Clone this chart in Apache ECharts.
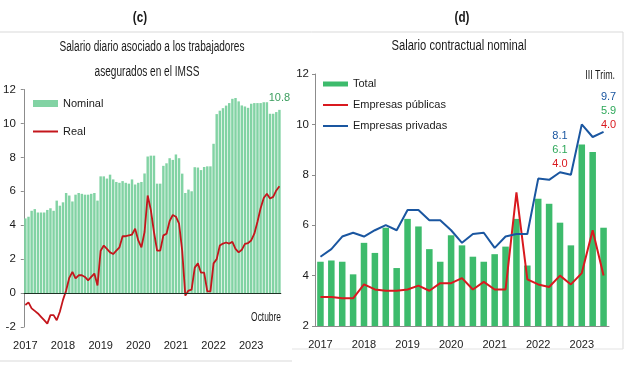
<!DOCTYPE html>
<html><head><meta charset="utf-8">
<script src="https://cdn.jsdelivr.net/npm/echarts@6/dist/echarts.min.js"></script>
<style>html,body{margin:0;padding:0;background:#fff}#c{width:625px;height:365px}</style>
</head><body><div id="c"></div>
<script>
// ---------- Panel (c): monthly, Jan 2017 - Oct 2023 ----------
const yearsC = ['2017','2018','2019','2020','2021','2022','2023'];
const nominal = [
  4.4, 4.5, 4.85, 4.95, 4.75, 4.75, 4.75, 4.9, 5.0, 4.85, 5.45, 5.15,
  5.35, 5.9, 5.75, 5.4, 5.8, 5.9, 5.85, 5.8, 5.8, 5.85, 5.9, 5.45,
  6.88, 6.88, 6.75, 6.98, 6.7, 6.55, 6.5, 6.6, 6.5, 6.45, 6.7, 6.4,
  6.5, 6.55, 7.05, 8.05, 8.1, 8.1, 6.45, 6.45, 7.5, 7.65, 7.95, 7.85,
  8.17, 7.95, 7.04, 5.9, 6.1, 6.0, 7.42, 7.4, 7.25, 7.43, 7.47, 7.47,
  8.8, 10.55, 10.75, 10.9, 11.05, 11.2, 11.45, 11.5, 11.3, 11.06, 11.0, 10.92,
  11.16, 11.2, 11.2, 11.2, 11.25, 11.25, 10.57, 10.57, 10.67, 10.8
];
const real = [
  -0.7, -0.55, -0.9, -1.05, -1.2, -1.4, -1.6, -1.8, -1.3, -1.3, -1.6, -1.1,
  -0.4, 0.15, 0.9, 1.25, 0.86, 1.05, 1.05, 0.95, 0.75, 0.95, 1.15, 0.45,
  2.5, 2.8, 2.6, 2.4, 2.3, 2.5, 2.7, 3.35, 3.35, 3.4, 3.45, 3.8,
  3.1, 2.7, 3.6, 5.75, 4.9, 3.6, 2.5, 2.5, 3.4, 3.5, 4.25, 4.6,
  4.5, 4.1, 2.5, -0.15, 0.15, 0.2, 1.5, 1.75, 1.2, 1.2, 0.1, 0.1,
  1.75, 2.0, 2.8, 2.92, 2.98, 2.92, 3.02, 2.6, 2.4, 2.55, 2.9, 2.95,
  3.1, 3.5, 4.2, 5.0, 5.6, 5.86, 5.57, 5.67, 6.05, 6.3
];
const ticksC = ['-2','0','2','4','6','8','10','12'];

// ---------- Panel (d): quarterly, 2017 I - 2023 III ----------
const yearsD = ['2017','2018','2019','2020','2021','2022','2023'];
const quarters = ['I','II','III','IV'];
const total = [
  4.55, 4.6, 4.55, 4.05, 5.3, 4.9, 5.9, 4.3, 6.25, 5.95, 5.05, 4.55,
  5.6, 5.2, 4.75, 4.55, 4.85, 5.15, 6.25, 4.4, 7.05, 6.85, 6.1, 5.2,
  9.2, 8.9, 5.9
];
const publicas = [
  3.15, 3.15, 3.1, 3.1, 3.65, 3.45, 3.4, 3.4, 3.45, 3.6, 3.4, 3.7,
  3.7, 3.9, 3.45, 3.75, 3.45, 3.45, 7.3, 3.85, 3.65, 3.55, 4.0, 3.65,
  4.1, 5.8, 4.0
];
const privadas = [
  4.75, 5.05, 5.55, 5.7, 5.55, 5.8, 6.0, 5.8, 6.6, 6.6, 6.2, 6.2,
  5.8, 5.3, 5.65, 5.7, 5.1, 5.55, 5.65, 5.65, 7.85, 7.8, 8.1, 8.0,
  10.0, 9.5, 9.7
];
const ticksD = ['2','4','6','8','10','12'];

const catC = [];
yearsC.forEach(y => { for (let m = 1; m <= 12; m++) catC.push(y + '-' + (m < 10 ? '0' : '') + m); });
catC.length = nominal.length;
const catD = [];
yearsD.forEach(y => quarters.forEach(q => catD.push(y + '-' + q)));
catD.length = total.length;

const FONT = "'Liberation Sans','Arial',sans-serif";
const TXT = '#1a1a1a';
const GREEN_C = '#82d3a4', RED_C = '#c4161c';
const GREEN_D = '#3dbb6c', RED_D = '#d9191f', BLUE_D = '#1a56a0';
const AX = '#8c8c8c';
const LINE_ICON = 'path://M0,0H25V2H0Z';

const lastC = nominal.length - 1;
const lastD = total.length - 1;
const stackIdx = 22;

function stackLabel(i) {
  return '{b|' + privadas[i].toFixed(1) + '}\n{g|' + total[i].toFixed(1) + '}\n{r|' + publicas[i].toFixed(1) + '}';
}
const rich = {
  b: {color: BLUE_D, fontSize: 11, lineHeight: 14, fontFamily: FONT},
  g: {color: '#2ea85a', fontSize: 11, lineHeight: 14, fontFamily: FONT},
  r: {color: RED_D, fontSize: 11, lineHeight: 14, fontFamily: FONT}
};
const privadasData = privadas.map((v, i) => {
  if (i === stackIdx) return {value: v, label: {show: true, position: 'top', distance: 1, formatter: stackLabel(i), rich: rich}};
  if (i === lastD) return {value: v, label: {show: true, position: 'top', distance: -0.5, offset: [5, 0], formatter: stackLabel(i), rich: rich}};
  return v;
});

const chart = echarts.init(document.getElementById('c'), null, {renderer: 'canvas'});
const option = {
  animation: false,
  textStyle: {fontFamily: FONT, color: TXT},
  grid: [
    {left: 19.4, top: 89.5, width: 261.6, height: 237.5},
    {left: 315, top: 74, width: 294, height: 252}
  ],
  xAxis: [
    {type: 'category', gridIndex: 0, data: catC, boundaryGap: true,
     axisLine: {lineStyle: {color: AX, width: 1}},
     axisTick: {interval: i => i % 12 === 0, length: 3, lineStyle: {color: AX}},
     axisLabel: {interval: i => i % 12 === 0, formatter: v => v.slice(0, 4), margin: 13.5, fontSize: 11, color: TXT, fontFamily: FONT}},
    {type: 'category', gridIndex: 1, data: catD, boundaryGap: true,
     axisLine: {lineStyle: {color: AX, width: 1}},
     axisTick: {interval: i => i % 4 === 0, length: 4, lineStyle: {color: AX}},
     axisLabel: {interval: i => i % 4 === 0, formatter: v => v.slice(0, 4), margin: 13.5, fontSize: 11, color: TXT, fontFamily: FONT}}
  ],
  yAxis: [
    {type: 'value', gridIndex: 0, min: -2, max: 12, interval: 2,
     splitLine: {show: false},
     axisLine: {show: true, lineStyle: {color: AX}},
     axisTick: {show: true, length: 3, lineStyle: {color: AX}},
     axisLabel: {margin: 8, fontSize: 11.5, color: TXT, fontFamily: FONT,
                 formatter: v => ticksC[(v + 2) / 2]}},
    {type: 'value', gridIndex: 1, min: 2, max: 12, interval: 2,
     splitLine: {show: false},
     axisLine: {show: true, lineStyle: {color: AX}},
     axisTick: {show: true, length: 3, lineStyle: {color: AX}},
     axisLabel: {margin: 6, fontSize: 11.5, color: TXT, fontFamily: FONT,
                 formatter: v => ticksD[(v - 2) / 2]}}
  ],
  legend: [
    {orient: 'vertical', left: 33, top: 98, padding: 0, itemWidth: 25, itemHeight: 7, itemGap: 17,
     textStyle: {fontSize: 11, color: TXT, fontFamily: FONT},
     data: [{name: 'Nominal', icon: 'rect'}, {name: 'Real', icon: LINE_ICON}]},
    {orient: 'vertical', left: 323, top: 78.5, padding: 0, itemWidth: 25, itemHeight: 5, itemGap: 10,
     textStyle: {fontSize: 11, color: TXT, fontFamily: FONT},
     data: [{name: 'Total', icon: 'rect'}, {name: 'Empresas públicas', icon: LINE_ICON}, {name: 'Empresas privadas', icon: LINE_ICON}]}
  ],
  series: [
    {name: 'Nominal', type: 'bar', xAxisIndex: 0, yAxisIndex: 0, data: nominal,
     barCategoryGap: '22%', itemStyle: {color: GREEN_C},
     label: {show: true, position: 'top', distance: 6, fontSize: 11, color: '#3a9d5d', fontFamily: FONT,
             formatter: p => p.dataIndex === lastC ? p.value.toFixed(1) : ''},
     markLine: {silent: true, symbol: 'none', label: {show: false},
                lineStyle: {color: '#1e3325', width: 1, type: 'solid'}, data: [{yAxis: 0}]}},
    {name: 'Real', type: 'line', xAxisIndex: 0, yAxisIndex: 0, data: real,
     symbol: 'none', lineStyle: {color: RED_C, width: 1.8}, itemStyle: {color: RED_C}, z: 3},
    {name: 'Total', type: 'bar', xAxisIndex: 1, yAxisIndex: 1, data: total,
     barCategoryGap: '40%', itemStyle: {color: GREEN_D}},
    {name: 'Empresas públicas', type: 'line', xAxisIndex: 1, yAxisIndex: 1, data: publicas,
     symbol: 'none', lineStyle: {color: RED_D, width: 2}, itemStyle: {color: RED_D}, z: 3},
    {name: 'Empresas privadas', type: 'line', xAxisIndex: 1, yAxisIndex: 1, data: privadasData,
     symbol: 'circle', symbolSize: 0.01, showSymbol: true,
     lineStyle: {color: BLUE_D, width: 2}, itemStyle: {color: BLUE_D}, z: 4,
     label: {show: false}}
  ],
  graphic: [
    {type: 'line', shape: {x1: 0, y1: 32, x2: 623, y2: 32}, style: {stroke: '#d9d9d9', lineWidth: 1}, silent: true},
    {type: 'line', shape: {x1: 623, y1: 32, x2: 623, y2: 349}, style: {stroke: '#d9d9d9', lineWidth: 1}, silent: true},
    {type: 'line', shape: {x1: 292, y1: 349, x2: 623, y2: 349}, style: {stroke: '#e3e3e3', lineWidth: 1}, silent: true},
    {type: 'line', shape: {x1: 0, y1: 361, x2: 292, y2: 361}, style: {stroke: '#d9d9d9', lineWidth: 1}, silent: true},
    {type: 'text', x: 140, y: 18, scaleX: 0.78, style: {text: '(c)', align: 'center', verticalAlign: 'middle', fontSize: 15, fontWeight: 'bold', fontFamily: FONT, fill: TXT}},
    {type: 'text', x: 462, y: 18, scaleX: 0.78, style: {text: '(d)', align: 'center', verticalAlign: 'middle', fontSize: 15, fontWeight: 'bold', fontFamily: FONT, fill: TXT}},
    {type: 'text', x: 152, y: 47, scaleX: 0.72, style: {text: 'Salario diario asociado a los trabajadores', align: 'center', verticalAlign: 'middle', fontSize: 14, fontFamily: FONT, fill: TXT}},
    {type: 'text', x: 147, y: 72, scaleX: 0.72, style: {text: 'asegurados en el IMSS', align: 'center', verticalAlign: 'middle', fontSize: 14, fontFamily: FONT, fill: TXT}},
    {type: 'text', x: 459, y: 46, scaleX: 0.8, style: {text: 'Salario contractual nominal', align: 'center', verticalAlign: 'middle', fontSize: 14, fontFamily: FONT, fill: TXT}},
    {type: 'text', x: 281, y: 318, scaleX: 0.7, style: {text: 'Octubre', align: 'right', verticalAlign: 'middle', fontSize: 12, fontFamily: FONT, fill: TXT}},
    {type: 'text', x: 615, y: 76, scaleX: 0.74, style: {text: 'III Trim.', align: 'right', verticalAlign: 'middle', fontSize: 12, fontFamily: FONT, fill: TXT}}
  ]
};
chart.setOption(option);
</script>
</body></html>
